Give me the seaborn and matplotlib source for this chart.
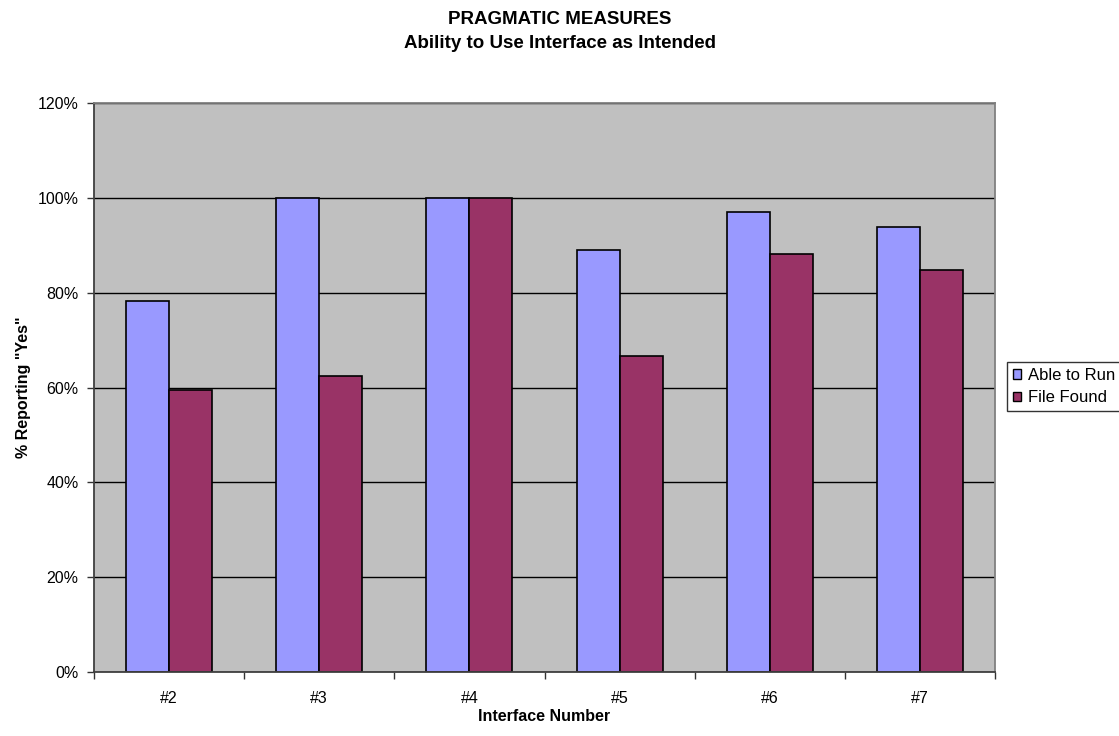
import matplotlib
matplotlib.use("Agg")
import matplotlib.pyplot as plt
import seaborn as sns
import pandas as pd
import numpy as np
from matplotlib.ticker import FixedLocator, PercentFormatter

categories = ["#2", "#3", "#4", "#5", "#6", "#7"]
able_to_run = [78.3, 100.0, 100.0, 88.9, 97.0, 93.9]
file_found = [59.4, 62.5, 100.0, 66.7, 88.2, 84.8]
series_names = ["Able to Run", "File Found"]
colors = ["#9999FF", "#993366"]

df = pd.DataFrame({
    "Interface": categories * 2,
    "Value": able_to_run + file_found,
    "Series": [series_names[0]] * len(categories) + [series_names[1]] * len(categories),
})

sns.set_style("white")
plt.rcParams["font.family"] = ["Liberation Sans", "DejaVu Sans"]
plt.rcParams["text.color"] = "black"
plt.rcParams["axes.labelcolor"] = "black"
plt.rcParams["xtick.color"] = "black"
plt.rcParams["ytick.color"] = "black"

fig = plt.figure(figsize=(11.19, 7.36), dpi=100)
ax = fig.add_axes([94 / 1119, 64 / 736, 901 / 1119, 569 / 736])
ax.set_facecolor("#C0C0C0")

sns.barplot(data=df, x="Interface", y="Value", hue="Series", order=categories,
            hue_order=series_names, palette=colors, saturation=1, width=0.573,
            dodge=True, edgecolor="black", linewidth=1.2, ax=ax, legend=True,
            errorbar=None)

ax.set_ylim(0, 120)
ax.set_xlim(-0.5, 5.5)
ax.set_yticks(np.arange(0, 121, 20))
ax.yaxis.set_major_formatter(PercentFormatter(decimals=0))
ax.yaxis.grid(True, color="black", linewidth=1)
ax.set_axisbelow(True)

ax.xaxis.set_minor_locator(FixedLocator(np.arange(-0.5, 6, 1)))
ax.tick_params(axis="x", which="major", length=0, labelsize=11.5, pad=14)
ax.tick_params(axis="x", which="minor", length=5, width=1, color="#333333",
               direction="out", bottom=True)
ax.tick_params(axis="y", which="major", length=5, width=1, color="#333333",
               direction="out", labelsize=11.5, left=True, pad=6)

for side in ["left", "bottom"]:
    ax.spines[side].set_color("#404040")
    ax.spines[side].set_linewidth(1.3)
for side in ["top", "right"]:
    ax.spines[side].set_color("#808080")
    ax.spines[side].set_linewidth(1.3)

ax.set_xlabel("Interface Number", fontsize=11.5, fontweight="bold", labelpad=2)
ax.set_ylabel('% Reporting "Yes"', fontsize=11.5, fontweight="bold", labelpad=5)

fig.text(560 / 1119, 1 - 19 / 736, "PRAGMATIC MEASURES", ha="center", va="center",
         fontsize=13.5, fontweight="bold")
fig.text(560 / 1119, 1 - 44 / 736, "Ability to Use Interface as Intended", ha="center",
         va="center", fontsize=13.5, fontweight="bold")

leg = ax.legend(loc="upper left", bbox_to_anchor=(1007 / 1119, 1 - 362 / 736),
                bbox_transform=fig.transFigure, frameon=True, fancybox=False,
                edgecolor="black", fontsize=12, handlelength=0.5, handleheight=0.5,
                handletextpad=0.4, borderpad=0.35, labelspacing=0.45, borderaxespad=0)
leg.get_frame().set_linewidth(1)
for h in leg.legend_handles:
    h.set_edgecolor("black")
    h.set_linewidth(1)

fig.savefig("out.png", dpi=100, facecolor="white")
